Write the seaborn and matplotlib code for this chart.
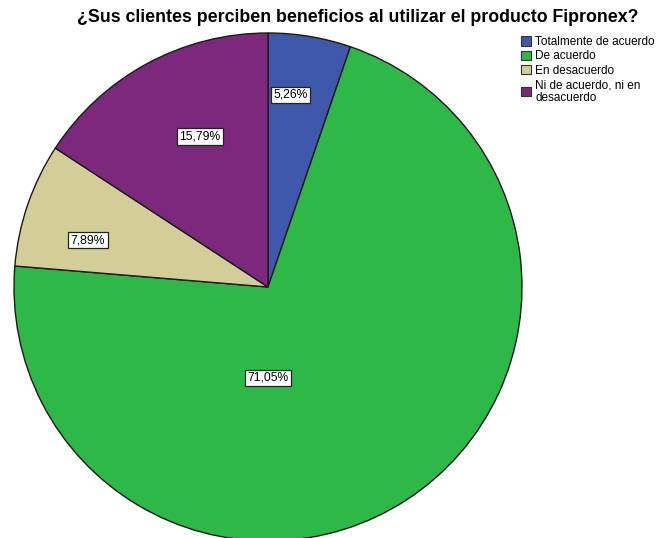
import matplotlib
matplotlib.use("Agg")
import matplotlib.pyplot as plt
import seaborn as sns
from matplotlib.patches import Patch

categories = ["Totalmente de acuerdo", "De acuerdo", "En desacuerdo", "Ni de acuerdo, ni en\ndesacuerdo"]
values = [5.26, 71.05, 7.89, 15.79]
labels = ["5,26%", "71,05%", "7,89%", "15,79%"]
colors = ["#3E58AC", "#2EB848", "#D3CE97", "#7C287D"]
# label positions relative to pie centre (in radius units)
label_pos = [(0.09, 0.756), (0.0, -0.358), (-0.709, 0.185), (-0.268, 0.591)]

sns.set_style("white")
plt.rcParams['font.family'] = ['Liberation Sans', 'DejaVu Sans']
plt.rcParams['text.color'] = 'black'

W, H = 659, 538
fig = plt.figure(figsize=(W / 100, H / 100), dpi=100)
ax = fig.add_axes([0, 0, 1, 1])
cx, cy, R = 268, 287, 254
ax.pie(values, colors=colors, startangle=90, counterclock=False, radius=1,
       wedgeprops=dict(edgecolor="#1a1a1a", linewidth=1.0))
ax.set_xlim(-cx / R, (W - cx) / R)
ax.set_ylim(-(H - cy) / R, cy / R)
ax.set_aspect('auto')
ax.axis('off')

for (x, y), t in zip(label_pos, labels):
    ax.text(x, y, t, ha='center', va='center', fontsize=8.7, color='black',
            bbox=dict(boxstyle='square,pad=0.2', fc='white', ec='#222222', lw=0.9))

fig.text(358 / W, 1 - 17 / H, "¿Sus clientes perciben beneficios al utilizar el producto Fipronex?",
         ha='center', va='center', fontsize=12.8, fontweight='bold', color='black')

handles = [Patch(facecolor=c, edgecolor='#333333', linewidth=0.8) for c in colors]
leg = fig.legend(handles, categories, loc='upper left', bbox_to_anchor=(521 / W, 1 - 36 / H),
                 frameon=False, fontsize=8.5, handlelength=0.85, handleheight=0.85,
                 handletextpad=0.35, labelspacing=0.2, borderpad=0, borderaxespad=0)
for t in leg.get_texts():
    t.set_color('black')
    t.set_linespacing(1.05)

fig.savefig("out.png", dpi=100)
